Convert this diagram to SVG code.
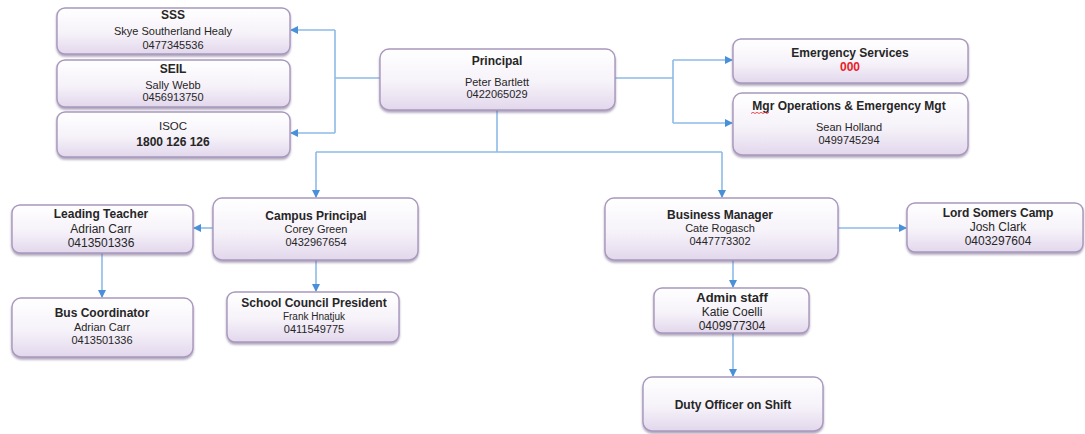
<svg xmlns="http://www.w3.org/2000/svg" width="1085" height="434" viewBox="0 0 1085 434">
<defs>
<linearGradient id="g" x1="0" y1="0" x2="0" y2="1">
<stop offset="0" stop-color="#ffffff"/>
<stop offset="0.55" stop-color="#f6f2f9"/>
<stop offset="1" stop-color="#e2d7ec"/>
</linearGradient>
<filter id="sh" x="-5%" y="-10%" width="110%" height="130%">
<feDropShadow dx="0" dy="2" stdDeviation="1.3" flood-color="#6e5d86" flood-opacity="0.55"/>
</filter>
<marker id="ah" viewBox="0 0 8 8" refX="7" refY="4" markerWidth="8" markerHeight="8" markerUnits="userSpaceOnUse" orient="auto">
<path d="M0,0 L8,4 L0,8 z" fill="#4a90d9"/>
</marker>
</defs>
<style>
.box{fill:url(#g);stroke:#a898bd;stroke-width:1.4;filter:url(#sh)}
.c{fill:none;stroke:#8dbbe8;stroke-width:1.6}
text{font-family:"Liberation Sans",Arial,sans-serif;fill:#262626;text-anchor:middle}
.t{font-weight:bold;font-size:12px}
.n{font-size:11px}
.m{font-size:12px}
</style>
<rect width="1085" height="434" fill="#ffffff"/>
<g id="connectors">
<path class="c" d="M380,78 H335 M335,30 V133" />
<path class="c" d="M335,30 H291" marker-end="url(#ah)"/>
<path class="c" d="M335,133 H291" marker-end="url(#ah)"/>
<path class="c" d="M615,78 H673 M673,60 V123"/>
<path class="c" d="M673,60 H732" marker-end="url(#ah)"/>
<path class="c" d="M673,123 H732" marker-end="url(#ah)"/>
<path class="c" d="M497,110 V152 M316,152 H722"/>
<path class="c" d="M316,152 V197" marker-end="url(#ah)"/>
<path class="c" d="M722,152 V197" marker-end="url(#ah)"/>
<path class="c" d="M213,228 H194" marker-end="url(#ah)"/>
<path class="c" d="M102,253 V297" marker-end="url(#ah)"/>
<path class="c" d="M316,260 V291" marker-end="url(#ah)"/>
<path class="c" d="M838,228 H906" marker-end="url(#ah)"/>
<path class="c" d="M733,260 V287" marker-end="url(#ah)"/>
<path class="c" d="M733,333 V376" marker-end="url(#ah)"/>
</g>
<g id="sss"><rect class="box" x="57" y="8" width="233" height="46" rx="8"/>
<text class="t" x="173" y="19">SSS</text><text class="n" x="173" y="35">Skye Southerland Healy</text><text class="n" x="173" y="49">0477345536</text></g>
<g id="seil"><rect class="box" x="57" y="60" width="233" height="47" rx="8"/>
<text class="t" x="173" y="73">SEIL</text><text class="n" x="173" y="89">Sally Webb</text><text class="n" x="173" y="101">0456913750</text></g>
<g id="isoc"><rect class="box" x="57" y="112" width="233" height="45" rx="8"/>
<text class="n" x="173" y="130" style="font-size:11.5px">ISOC</text><text class="t" x="173" y="146">1800 126 126</text></g>
<g id="principal"><rect class="box" x="380" y="49" width="235" height="61" rx="9"/>
<text class="t" x="497" y="65">Principal</text><text class="n" x="497" y="86">Peter Bartlett</text><text class="n" x="497" y="98">0422065029</text></g>
<g id="emergency"><rect class="box" x="733" y="39" width="235" height="44" rx="8"/>
<text class="t" x="850" y="57">Emergency Services</text><text class="t" x="850" y="71" style="fill:#e8202a">000</text></g>
<g id="mgr"><rect class="box" x="733" y="93" width="235" height="62" rx="9"/>
<text class="t" x="849" y="110">Mgr Operations &amp; Emergency Mgt</text>
<path d="M751,113.5 l2,-1.2 l2,1.2 l2,-1.2 l2,1.2 l2,-1.2 l2,1.2 l2,-1.2 l2,1.2 l2,-1.2" fill="none" stroke="#e8202a" stroke-width="0.8"/>
<text class="n" x="849" y="131">Sean Holland</text><text class="n" x="849" y="144">0499745294</text></g>
<g id="leading"><rect class="box" x="12" y="205" width="181" height="48" rx="8"/>
<text class="t" x="101" y="218">Leading Teacher</text><text class="m" x="101" y="233">Adrian Carr</text><text class="m" x="101" y="247">0413501336</text></g>
<g id="campus"><rect class="box" x="213" y="198" width="205" height="62" rx="9"/>
<text class="t" x="316" y="220">Campus Principal</text><text class="n" x="316" y="233">Corey Green</text><text class="n" x="316" y="246">0432967654</text></g>
<g id="bus"><rect class="box" x="12" y="298" width="181" height="59" rx="9"/>
<text class="t" x="102" y="317">Bus Coordinator</text><text class="n" x="102" y="331">Adrian Carr</text><text class="n" x="102" y="344">0413501336</text></g>
<g id="council"><rect class="box" x="227" y="292" width="172" height="50" rx="8"/>
<text class="t" x="314" y="307">School Council President</text><text class="n" x="314" y="320" style="font-size:10px">Frank Hnatjuk</text><text class="n" x="314" y="333">0411549775</text></g>
<g id="business"><rect class="box" x="605" y="198" width="233" height="62" rx="9"/>
<text class="t" x="720" y="219">Business Manager</text><text class="n" x="720" y="232">Cate Rogasch</text><text class="n" x="720" y="245">0447773302</text></g>
<g id="lordsomers"><rect class="box" x="907" y="203" width="176" height="49" rx="8"/>
<text class="t" x="998" y="217">Lord Somers Camp</text><text class="m" x="998" y="231">Josh Clark</text><text class="m" x="998" y="245">0403297604</text></g>
<g id="admin"><rect class="box" x="654" y="288" width="155" height="45" rx="8"/>
<text class="t" x="732" y="302" style="font-size:13px">Admin staff</text><text class="m" x="732" y="316">Katie Coelli</text><text class="m" x="732" y="330">0409977304</text></g>
<g id="duty"><rect class="box" x="643" y="377" width="180" height="54" rx="9"/>
<text class="t" x="733" y="409">Duty Officer on Shift</text></g>
</svg>
